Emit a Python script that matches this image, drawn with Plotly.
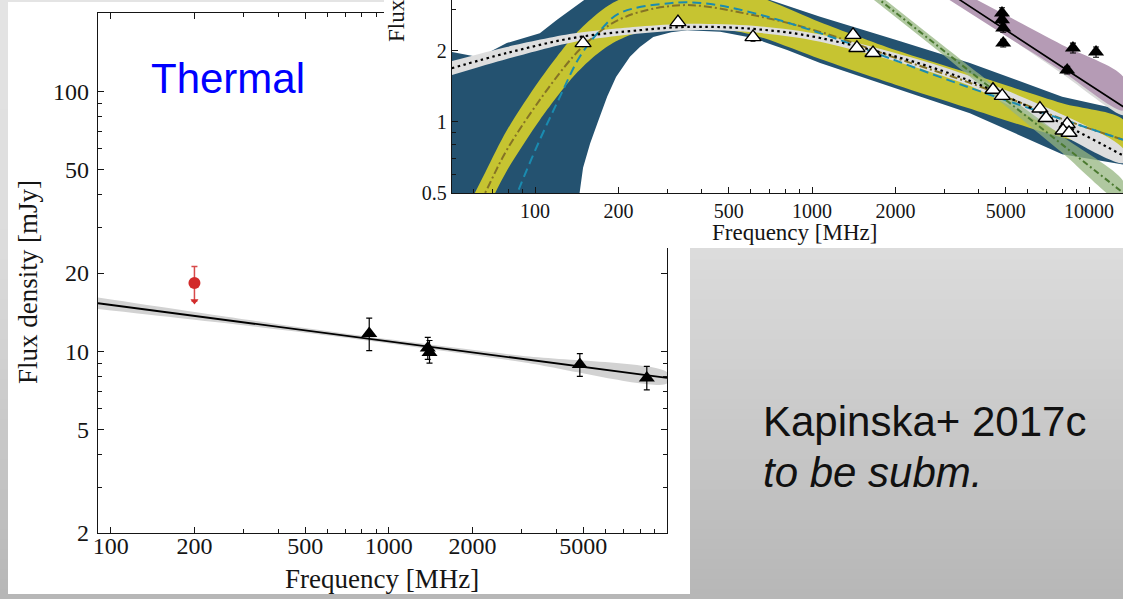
import math
import plotly.graph_objects as go

W, H = 1123, 599

# ------------------------------------------------------------------
# Left panel ("Thermal") data  [frequency MHz, flux density mJy]
# ------------------------------------------------------------------
thermal_freq = [850, 1380, 1400, 4860, 8460]
thermal_flux = [11.7, 10.3, 9.9, 8.9, 7.9]
thermal_err_up = [1.7, 1.0, 1.1, 0.9, 0.85]
thermal_err_dn = [1.65, 1.0, 0.9, 0.9, 0.8]

limit_freq = [200]
limit_flux = [18.3]
limit_err_up = [2.9]
limit_arrow_tip = [15.6]

fit_freq = [90, 10000]
fit_flux = [15.3, 7.9]
fit_band_freq = [90, 300, 1000, 3000, 10000]
fit_band_up = [16.1, 13.29, 11.12, 9.61, 8.31]
fit_band_lo = [14.54, 12.58, 10.72, 9.10, 7.51]

left_x_major = [100, 200, 500, 1000, 2000, 5000]
left_x_minor = [300, 400, 600, 700, 800, 900, 3000, 4000, 6000, 7000, 8000, 9000]
left_y_major = [2, 5, 10, 20, 50, 100]
left_y_minor = [3, 4, 6, 7, 8, 9, 30, 40, 60, 70, 80, 90]

# ------------------------------------------------------------------
# Top-right panel data
# ------------------------------------------------------------------
blue_up_freq = [50, 63, 79, 104, 120, 145, 200, 300, 500, 705, 1070, 2000, 3715, 8000, 13300]
blue_up_flux = [1.98, 1.88, 2.16, 2.38, 2.71, 3.19, 4.2, 4.8, 4.2, 3.29, 2.79, 2.23, 1.78, 1.28, 1.12]
blue_lo_freq = [50, 100, 130, 145, 149, 158, 168, 182, 196, 220, 239, 267, 310, 354, 466, 612,
                813, 1070, 2000, 3715, 8000, 13300]
blue_lo_flux = [0.1, 0.1, 0.2, 0.5, 0.64, 0.81, 0.99, 1.28, 1.55, 1.89, 2.08, 2.29, 2.40, 2.45, 2.41, 2.27,
                2.02, 1.78, 1.39, 1.09, 0.73, 0.66]

yellow_freq = [50, 66, 79, 104, 137, 162, 191, 239, 354, 612, 1070, 2000, 3630, 8000, 13300]
yellow_up = [0.32, 0.61, 0.92, 1.51, 2.30, 2.78, 3.20, 3.56, 3.81, 3.45, 2.65, 2.02, 1.62, 1.20, 1.02]
yellow_lo = [0.21, 0.41, 0.62, 1.02, 1.55, 1.88, 2.16, 2.41, 2.57, 2.34, 1.85, 1.44, 1.15, 0.86, 0.77]
olive_flux = [0.26, 0.50, 0.76, 1.24, 1.89, 2.29, 2.63, 2.93, 3.13, 2.84, 2.41, 1.87, 1.48, 1.03, 0.84]

teal_freq = [80, 88, 104, 123, 145, 172, 203, 307, 404, 612, 1070, 3630, 13300]
teal_flux = [0.40, 0.53, 0.84, 1.28, 1.89, 2.45, 2.90, 3.19, 3.19, 2.90, 2.38, 1.41, 0.84]

dotted_freq = [50, 79, 137, 239, 354, 612, 1070, 3630, 13300]
dotted_flux = [1.69, 1.96, 2.27, 2.45, 2.53, 2.48, 2.27, 1.51, 0.72]
dotted_up = [1.81, 2.08, 2.37, 2.54, 2.61, 2.56, 2.35, 1.58, 0.77]
dotted_lo = [1.58, 1.85, 2.18, 2.37, 2.45, 2.40, 2.19, 1.44, 0.67]

green_freq = [1400, 3000, 5000, 8000, 13300]
green_flux = [4.06, 2.00, 1.24, 0.80, 0.50]
green_up = [4.25, 2.09, 1.31, 0.87, 0.56]
green_lo = [3.88, 1.91, 1.17, 0.74, 0.45]

steep_freq = [3000, 5000, 8000, 13300]
purple_up = [3.90, 2.84, 2.12, 1.55]
purple_lo = [3.40, 2.32, 1.64, 1.12]
nt_fit = [3.64, 2.45, 1.71, 1.16]
nt_band_up = [3.80, 2.55, 1.80, 1.24]
nt_band_lo = [3.48, 2.33, 1.60, 1.07]

open_freq = [149, 328, 612, 1406, 1452, 1660, 4500, 4860, 6650, 7000, 8340, 8060, 8470]
open_flux = [2.16, 2.65, 2.29, 2.34, 2.06, 1.96, 1.37, 1.29, 1.14, 1.04, 0.98, 0.92, 0.90]
open_err = [0.07, 0.09, 0.09, 0.05, 0.05, 0.04, 0.04, 0.04, 0.03, 0.03, 0.03, 0.03, 0.03]

filled_freq = [4850, 4850, 4900, 4900, 8750, 8340, 10600]
filled_flux = [2.90, 2.71, 2.50, 2.16, 2.06, 1.66, 1.98]
filled_err = [0.15, 0.10, 0.10, 0.08, 0.10, 0.06, 0.10]

tr_x_major = [100, 200, 500, 1000, 2000, 5000, 10000]
tr_x_minor = [60, 70, 80, 90, 300, 400, 600, 700, 800, 900, 3000, 4000, 6000, 7000, 8000, 9000]
tr_y_major = [0.5, 1, 2]
tr_y_minor = [0.6, 0.7, 0.8, 0.9, 3]

# ------------------------------------------------------------------
SERIF = "Liberation Serif, DejaVu Serif, serif"
SANS = "Liberation Sans, Arial, sans-serif"
INK = "#151515"


def px_x(p):
    return p / W


def px_y(p):
    return 1 - p / H


def band(xs_up, ys_up, xs_lo, ys_lo, color, axes, shape="spline"):
    return go.Scatter(x=list(xs_up) + list(xs_lo)[::-1], y=list(ys_up) + list(ys_lo)[::-1],
                      fill="toself", fillcolor=color, mode="lines",
                      line=dict(width=0, shape=shape, smoothing=0.8),
                      xaxis=axes[0], yaxis=axes[1], hoverinfo="skip", showlegend=False)


fig = go.Figure()
L = ("x", "y")
TR = ("x3", "y3")

# ---- left panel ----
fig.add_trace(band(fit_band_freq, fit_band_up, fit_band_freq, fit_band_lo, "#d2d2d2", L))
fig.add_trace(go.Scatter(x=fit_freq, y=fit_flux, mode="lines", line=dict(color="black", width=1.8),
                         xaxis="x", yaxis="y", showlegend=False))
fig.add_trace(go.Scatter(x=thermal_freq, y=thermal_flux, mode="markers",
                         marker=dict(symbol="triangle-up", size=14, color="black"),
                         error_y=dict(type="data", symmetric=False, array=thermal_err_up,
                                      arrayminus=thermal_err_dn, color="black", thickness=1.2, width=3),
                         xaxis="x", yaxis="y", showlegend=False))
RED = "#d22b2b"
fig.add_trace(go.Scatter(x=limit_freq, y=limit_flux, mode="markers",
                         marker=dict(symbol="circle", size=12, color=RED),
                         error_y=dict(type="data", symmetric=False, array=limit_err_up,
                                      arrayminus=[limit_flux[0] - limit_arrow_tip[0]],
                                      color="#d84a4a", thickness=1.5, width=3),
                         xaxis="x", yaxis="y", showlegend=False))
fig.add_trace(go.Scatter(x=limit_freq, y=limit_arrow_tip, mode="markers",
                         marker=dict(symbol="triangle-down", size=7, color=RED),
                         xaxis="x", yaxis="y", showlegend=False))

# ---- cover subplot (white panel of the overlaid top-right figure) ----
fig.add_trace(go.Scatter(x=[], y=[], xaxis="x2", yaxis="y2", showlegend=False))

# ---- top-right panel ----
fig.add_trace(band(blue_up_freq, blue_up_flux, blue_lo_freq, blue_lo_flux, "#245270", TR, shape="linear"))
fig.add_trace(band(yellow_freq, yellow_up, yellow_freq, yellow_lo, "#c6c431", TR))
fig.add_trace(band(dotted_freq, dotted_up, dotted_freq, dotted_lo, "#dedede", TR))
fig.add_trace(band(steep_freq, nt_band_up, steep_freq, nt_band_lo, "#dadada", TR))
fig.add_trace(band(steep_freq, purple_up, steep_freq, purple_lo, "#b59bb5", TR))
fig.add_trace(band(green_freq, green_up, green_freq, green_lo, "rgba(150,182,128,0.75)", TR))

fig.add_trace(go.Scatter(x=yellow_freq, y=olive_flux, mode="lines",
                         line=dict(color="#857325", width=2, dash="8px,3px,2px,3px", shape="spline"),
                         xaxis="x3", yaxis="y3", showlegend=False))
fig.add_trace(go.Scatter(x=teal_freq, y=teal_flux, mode="lines",
                         line=dict(color="#1a8bb0", width=2, dash="9px,5px", shape="spline"),
                         xaxis="x3", yaxis="y3", showlegend=False))
fig.add_trace(go.Scatter(x=dotted_freq, y=dotted_flux, mode="lines",
                         line=dict(color="black", width=2.2, dash="2.5px,3.5px", shape="spline"),
                         xaxis="x3", yaxis="y3", showlegend=False))
fig.add_trace(go.Scatter(x=green_freq, y=green_flux, mode="lines",
                         line=dict(color="#4b7a30", width=2, dash="6px,3px,2px,3px"),
                         xaxis="x3", yaxis="y3", showlegend=False))
fig.add_trace(go.Scatter(x=steep_freq, y=nt_fit, mode="lines",
                         line=dict(color="black", width=1.6),
                         xaxis="x3", yaxis="y3", showlegend=False))
fig.add_trace(go.Scatter(x=open_freq, y=open_flux, mode="markers",
                         marker=dict(symbol="triangle-up", size=14, color="white",
                                     line=dict(color="black", width=1.4)),
                         error_y=dict(type="data", array=open_err, color="black", thickness=1.1, width=2.5),
                         xaxis="x3", yaxis="y3", showlegend=False))
fig.add_trace(go.Scatter(x=filled_freq, y=filled_flux, mode="markers",
                         marker=dict(symbol="triangle-up", size=14, color="black"),
                         error_y=dict(type="data", array=filled_err, color="black", thickness=1.1, width=3),
                         xaxis="x3", yaxis="y3", showlegend=False))


def log_axis(domain, rng, anchor, major, minor, fsize, mirror, standoff):
    return dict(type="log", domain=domain, range=rng, anchor=anchor,
                showline=True, linecolor=INK, linewidth=1.3, mirror=mirror,
                ticks="inside", ticklen=6, tickwidth=1, tickcolor=INK,
                tickmode="array", tickvals=major, ticktext=[f"{v:g}" for v in major],
                tickfont=dict(family=SERIF, size=fsize, color=INK),
                ticklabelstandoff=standoff,
                minor=dict(tickmode="array", tickvals=minor, ticks="inside", ticklen=3.5,
                           tickwidth=1, tickcolor=INK, showgrid=False),
                showgrid=False, zeroline=False, automargin=False, fixedrange=True)


layout_x = log_axis([px_x(98), px_x(667)], [math.log10(90), 4.0], "y",
                    left_x_major, left_x_minor, 24, "allticks", -9)
layout_y = log_axis([px_y(533), px_y(13)], [math.log10(2), math.log10(200)], "x",
                    left_y_major, left_y_minor, 24, "allticks", 3)
layout_x3 = log_axis([px_x(452), 1.0], [1.700, 4.1227], "y3",
                     tr_x_major, tr_x_minor, 20, False, 0)
layout_y3 = log_axis([px_y(193), 1.0], [math.log10(0.5), 0.5171], "x3",
                     tr_y_major, tr_y_minor, 20, False, 0)

# slide background gradient + white panels
shapes = []
n = 60
for i in range(n):
    y0 = i * H / n
    y1 = (i + 1) * H / n
    yc = (y0 + y1) / 2
    if yc < 250:
        g = 228 - 8 * yc / 250
    else:
        g = 220 - 38 * (yc - 250) / 349
    g = int(round(g))
    shapes.append(dict(type="rect", xref="paper", yref="paper", x0=0, x1=1,
                       y0=px_y(y1 + 0.6), y1=px_y(y0), fillcolor=f"rgb({g},{g},{g})",
                       line=dict(width=0), layer="below"))
shapes.append(dict(type="rect", xref="paper", yref="paper", x0=px_x(8), x1=px_x(690),
                   y0=px_y(594), y1=px_y(2), fillcolor="white", line=dict(width=0), layer="below"))
shapes.append(dict(type="rect", xref="paper", yref="paper", x0=px_x(384), x1=1,
                   y0=px_y(248), y1=1, fillcolor="white", line=dict(width=0), layer="below"))

annotations = [
    dict(text="Thermal", x=px_x(149), y=px_y(78), xref="paper", yref="paper",
         xanchor="left", yanchor="middle", showarrow=False,
         font=dict(family=SANS, size=42, color="#0000ff")),
    dict(text="Flux density [mJy]", x=px_x(28), y=px_y(282), xref="paper", yref="paper",
         xanchor="center", yanchor="middle", textangle=-90, showarrow=False,
         font=dict(family=SERIF, size=27, color=INK)),
    dict(text="Frequency [MHz]", x=px_x(382), y=px_y(579), xref="paper", yref="paper",
         xanchor="center", yanchor="middle", showarrow=False,
         font=dict(family=SERIF, size=27, color=INK)),
    dict(text="Flux density [mJy]", x=px_x(396), y=px_y(-45), xref="paper", yref="paper",
         xanchor="center", yanchor="middle", textangle=-90, showarrow=False,
         font=dict(family=SERIF, size=23, color=INK)),
    dict(text="Frequency [MHz]", x=px_x(794), y=px_y(232), xref="paper", yref="paper",
         xanchor="center", yanchor="middle", showarrow=False,
         font=dict(family=SERIF, size=23, color=INK)),
    dict(text="Kapinska+ 2017c", x=px_x(761), y=px_y(421), xref="paper", yref="paper",
         xanchor="left", yanchor="middle", showarrow=False,
         font=dict(family=SANS, size=42, color="#111111")),
    dict(text="<i>to be subm.</i>", x=px_x(761), y=px_y(472), xref="paper", yref="paper",
         xanchor="left", yanchor="middle", showarrow=False,
         font=dict(family=SANS, size=42, color="#111111")),
]

fig.update_layout(
    template="none",
    width=W, height=H, margin=dict(l=0, r=0, t=0, b=0, pad=0),
    paper_bgcolor="#d0d0d0", plot_bgcolor="white",
    showlegend=False,
    font=dict(family=SERIF, color=INK),
    xaxis=layout_x, yaxis=layout_y,
    xaxis2=dict(domain=[px_x(384), 1.0], range=[0, 1], anchor="y2", visible=False, fixedrange=True),
    yaxis2=dict(domain=[px_y(248), 1.0], range=[0, 1], anchor="x2", visible=False, fixedrange=True),
    xaxis3=layout_x3, yaxis3=layout_y3,
    shapes=shapes, annotations=annotations,
)

fig.write_html("out.html", config={"displayModeBar": False},
               post_script="document.body.style.margin='0px';document.body.style.overflow='hidden';")
